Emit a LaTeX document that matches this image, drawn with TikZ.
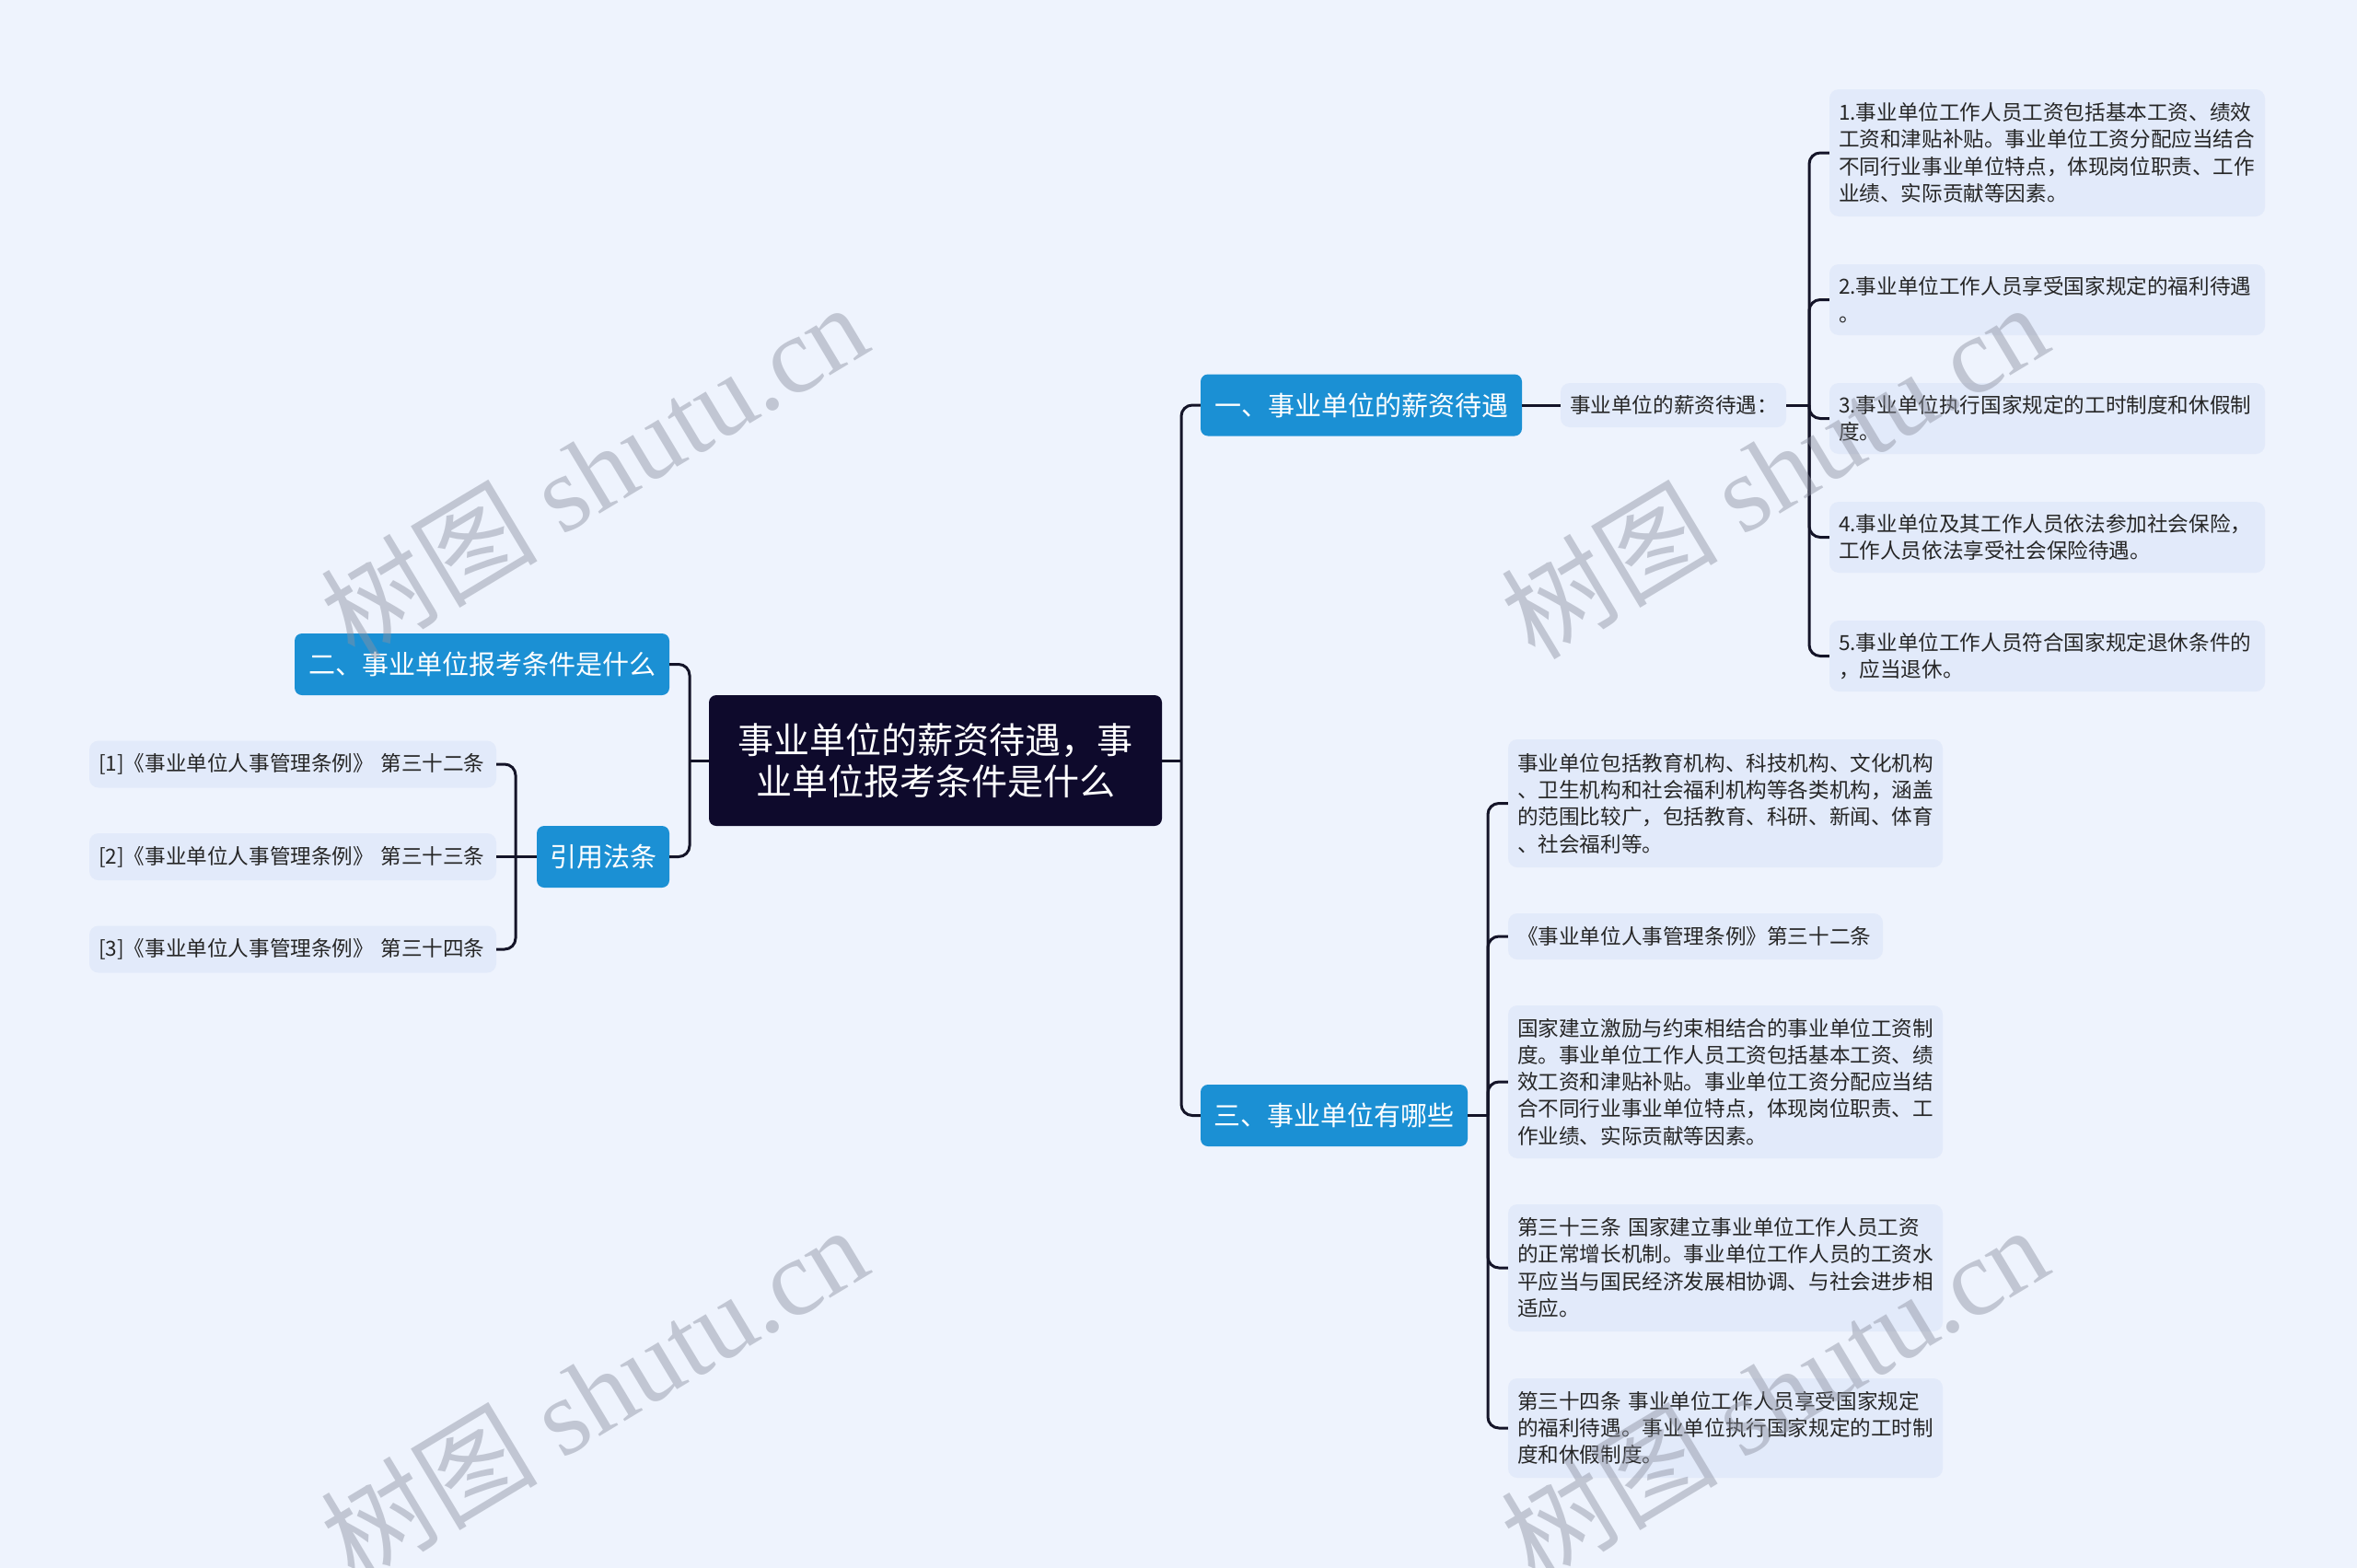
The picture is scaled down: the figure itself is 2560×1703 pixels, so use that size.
\documentclass[tikz,border=0pt]{standalone}
\usepackage{fontspec}
\setmainfont{Noto Sans CJK SC}
\newfontfamily\cjkf{Noto Sans CJK SC}
\newfontfamily\wmserif{Liberation Serif}
\definecolor{bgc}{RGB}{238,243,253}
\definecolor{bluec}{RGB}{27,144,212}
\definecolor{navyc}{RGB}{14,10,44}
\definecolor{leafc}{RGB}{226,234,250}
\definecolor{linec}{RGB}{20,20,40}
\definecolor{textc}{RGB}{38,38,38}
\definecolor{wmc}{RGB}{140,145,160}
\begin{document}
\begin{tikzpicture}[x=1pt,y=-1pt,
  conn/.style={draw=linec, line width=3pt, rounded corners=12pt},
  central/.style={fill=navyc, rounded corners=8pt, text=white, font=\fontsize{39}{45}\selectfont, align=center, minimum width=492pt, minimum height=142pt, inner sep=0pt},
  branch/.style={fill=bluec, rounded corners=8pt, text=white, font=\fontsize{29}{34}\selectfont, minimum height=67pt, inner sep=0pt},
  leaf/.style={fill=leafc, rounded corners=10pt, text=textc, font=\fontsize{22.6}{29.3}\selectfont, align=left, inner xsep=10pt, inner ysep=0pt},
  wm/.style={text=wmc, opacity=0.45, font=\fontsize{118}{120}\selectfont, rotate=31}
]
\fill[bgc] (0,0) rectangle (2560,1703);
\useasboundingbox (0,0) rectangle (2560,1703);

% central
\node[central] (c) at (1016,826) {事业单位的薪资待遇，事\\业单位报考条件是什么};

% branch 1
\node[branch, minimum width=349pt] (b1) at (1478.5,440) {一、事业单位的薪资待遇};
\node[leaf, text width=225pt, minimum height=48pt] (s1) at (1817.5,440) {事业单位的薪资待遇：};
\node[leaf, text width=453pt, minimum height=138pt] (r1) at (2223.5,166) {1.事业单位工作人员工资包括基本工资、绩效\\工资和津贴补贴。事业单位工资分配应当结合\\不同行业事业单位特点，体现岗位职责、工作\\业绩、实际贡献等因素。};
\node[leaf, text width=453pt, minimum height=77pt] (r2) at (2223.5,325.5) {2.事业单位工作人员享受国家规定的福利待遇\\。};
\node[leaf, text width=453pt, minimum height=77pt] (r3) at (2223.5,454.5) {3.事业单位执行国家规定的工时制度和休假制\\度。};
\node[leaf, text width=453pt, minimum height=77pt] (r4) at (2223.5,583.5) {4.事业单位及其工作人员依法参加社会保险，\\工作人员依法享受社会保险待遇。};
\node[leaf, text width=453pt, minimum height=77pt] (r5) at (2223.5,712.5) {5.事业单位工作人员符合国家规定退休条件的\\，应当退休。};

% branch 2
\node[branch, minimum width=407pt] (b2) at (523.5,721.5) {二、事业单位报考条件是什么};
\node[branch, minimum width=144pt] (yy) at (655,930.5) {引用法条};
\node[leaf, text width=422pt, minimum height=51pt] (l1) at (318,830) {[1]《事业单位人事管理条例》 第三十二条};
\node[leaf, text width=422pt, minimum height=51pt] (l2) at (318,930.5) {[2]《事业单位人事管理条例》 第三十三条};
\node[leaf, text width=422pt, minimum height=51pt] (l3) at (318,1031) {[3]《事业单位人事管理条例》 第三十四条};

% branch 3
\node[branch, minimum width=290pt] (b3) at (1449,1211.5) {三、事业单位有哪些};
\node[leaf, text width=452pt, minimum height=139pt] (q1) at (1874,872.5) {事业单位包括教育机构、科技机构、文化机构\\、卫生机构和社会福利机构等各类机构，涵盖\\的范围比较广，包括教育、科研、新闻、体育\\、社会福利等。};
\node[leaf, text width=387pt, minimum height=50pt] (q2) at (1841.5,1017) {《事业单位人事管理条例》第三十二条};
\node[leaf, text width=452pt, minimum height=166pt] (q3) at (1874,1175) {国家建立激励与约束相结合的事业单位工资制\\度。事业单位工作人员工资包括基本工资、绩\\效工资和津贴补贴。事业单位工资分配应当结\\合不同行业事业单位特点，体现岗位职责、工\\作业绩、实际贡献等因素。};
\node[leaf, text width=452pt, minimum height=138pt] (q4) at (1874,1377) {第三十三条 国家建立事业单位工作人员工资\\的正常增长机制。事业单位工作人员的工资水\\平应当与国民经济发展相协调、与社会进步相\\适应。};
\node[leaf, text width=452pt, minimum height=108pt] (q5) at (1874,1551) {第三十四条 事业单位工作人员享受国家规定\\的福利待遇。事业单位执行国家规定的工时制\\度和休假制度。};

% junctions
\coordinate (cR) at (1283,826);
\coordinate (cL) at (749,826);
\coordinate (cS) at (1965,440);
\coordinate (cB) at (1616,1211.5);
\coordinate (cY) at (560,930.5);

% connectors
\draw[conn] (c.east) -- (cR);
\draw[conn] (b1.west) -| (cR) |- (b3.west);
\draw[conn] (c.west) -- (cL);
\draw[conn] (b2.east) -| (cL) |- (yy.east);
\draw[conn] (b1.east) -- (s1.west);
\draw[conn] (s1.east) -- (cS);
\draw[conn] (r1.west) -| (cS) |- (r5.west);
\draw[conn] (cS) |- (r2.west);
\draw[conn] (cS) |- (r3.west);
\draw[conn] (cS) |- (r4.west);
\draw[conn] (yy.west) -- (cY);
\draw[conn] (l1.east) -| (cY) |- (l3.east);
\draw[conn] (cY) -- (l2.east);
\draw[conn] (b3.east) -- (cB);
\draw[conn] (q1.west) -| (cB) |- (q5.west);
\draw[conn] (cB) |- (q2.west);
\draw[conn] (cB) |- (q3.west);
\draw[conn] (cB) |- (q4.west);

% watermarks
\node[wm] (w1) at (645,510) {{\cjkf 树图} {\wmserif shutu.cn}};
\node[wm] (w2) at (1927,510) {{\cjkf 树图} {\wmserif shutu.cn}};
\node[wm] (w3) at (645,1512) {{\cjkf 树图} {\wmserif shutu.cn}};
\node[wm] (w4) at (1927,1512) {{\cjkf 树图} {\wmserif shutu.cn}};
\end{tikzpicture}
\end{document}
